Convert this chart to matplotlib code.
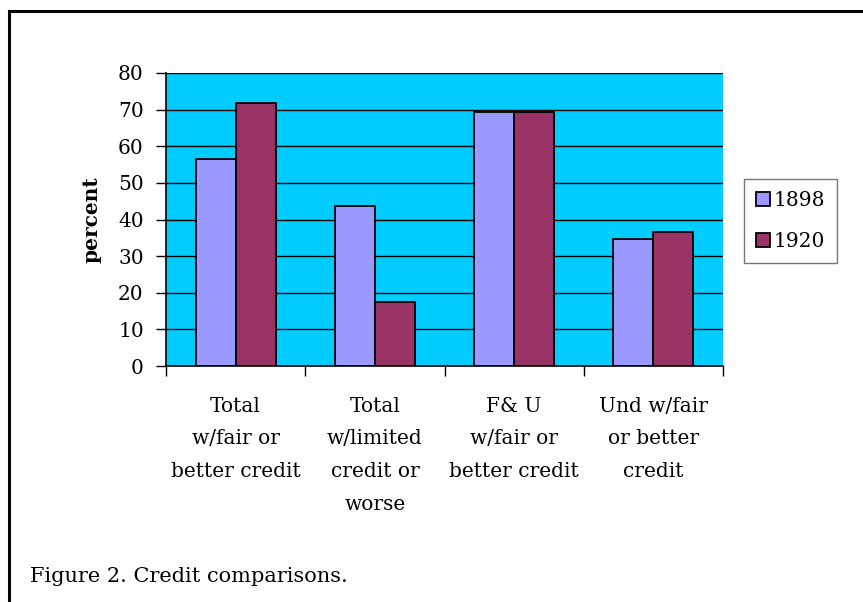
import numpy as np
import matplotlib.pyplot as plt
from matplotlib.patches import Rectangle

# Data ########################################################################
categories = ["Total\nw/fair or\nbetter credit",
              "Total\nw/limited\ncredit or\nworse",
              "F& U\nw/fair or\nbetter credit",
              "Und w/fair\nor better\ncredit"]
years = ["1898", "1920"]
values_1898 = [56.6, 43.8, 69.4, 34.7]
values_1920 = [71.9, 17.4, 69.4, 36.6]
y_ticks = [0, 10, 20, 30, 40, 50, 60, 70, 80]

plt.rcParams['font.family'] = ['DejaVu Serif']

# Canvas ######################################################################
W, H = 863, 602
fig = plt.figure(figsize=(W / 100, H / 100), dpi=100)
ax = fig.add_axes([166 / W, 1 - 366 / H, (723 - 166) / W, (366 - 73) / H])
ax.set_facecolor('#00CCFF')

x = np.arange(len(categories))
bw = 0.288
ax.bar(x - bw / 2, values_1898, bw, color='#9999FF', edgecolor='black',
       linewidth=1.3, label=years[0], zorder=3)
ax.bar(x + bw / 2, values_1920, bw, color='#993366', edgecolor='black',
       linewidth=1.3, label=years[1], zorder=3)

ax.set_xlim(-0.5, 3.5)
ax.set_ylim(0, 80)
ax.set_yticks(y_ticks)
ax.yaxis.grid(True, color='black', linewidth=1.0, zorder=1)
ax.set_axisbelow(True)

ax.set_xticks(x)
ax.set_xticklabels(categories, fontsize=14.5, linespacing=1.92, va='top')
ax.set_xticks(np.arange(-0.5, 4.0, 1.0), minor=True)
ax.tick_params(axis='x', which='major', length=0, pad=22)
ax.tick_params(axis='x', which='minor', length=7, width=1, color='black',
               direction='out')
ax.tick_params(axis='y', length=7, width=1, labelsize=14.5, pad=9)

for s in ['top', 'right']:
    ax.spines[s].set_visible(False)
for s in ['left', 'bottom']:
    ax.spines[s].set_linewidth(1.2)
    ax.spines[s].set_zorder(4)

ax.set_ylabel('percent', fontsize=14.5, fontweight='bold', labelpad=12)

leg = fig.legend(loc='upper left', bbox_to_anchor=(744 / W, 1 - 179 / H),
                 fontsize=14.5, frameon=True, fancybox=False, handlelength=0.7,
                 handleheight=0.7, handletextpad=0.15, borderpad=0.6,
                 labelspacing=1.1, borderaxespad=0)
leg.get_frame().set_edgecolor('#555555')
leg.get_frame().set_linewidth(1.0)

# Caption and outer frame
fig.text(30 / W, 1 - 577 / H, 'Figure 2. Credit comparisons.', fontsize=15,
         va='center', ha='left')
fig.patches.append(Rectangle((9 / W, -0.1), 1.2, 1.1 - 11 / H, fill=False,
                             edgecolor='black', linewidth=2.2,
                             transform=fig.transFigure))

fig.savefig('out.png', dpi=100)
plt.close()
